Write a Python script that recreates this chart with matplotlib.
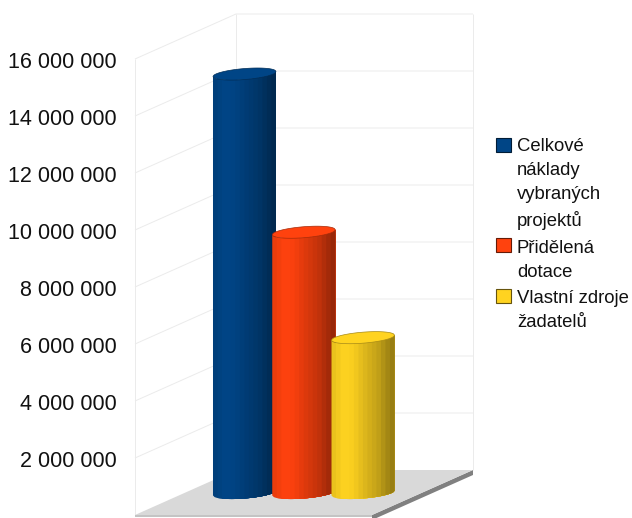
import numpy as np
import matplotlib
matplotlib.use('Agg')
import matplotlib.pyplot as plt
from matplotlib.patches import Polygon, Rectangle
from matplotlib.transforms import ScaledTranslation

# values
categories = ['Celkové\nnáklady\nvybraných\nprojektů', 'Přidělená\ndotace', 'Vlastní zdroje\nžadatelů']
values = [14700000, 9150000, 5450000]
colors = ['#004586', '#ff420e', '#ffd320']
ticks = [0, 2000000, 4000000, 6000000, 8000000, 10000000, 12000000, 14000000, 16000000]
tick_labels = ['', '2 000 000', '4 000 000', '6 000 000', '8 000 000', '10 000 000',
               '12 000 000', '14 000 000', '16 000 000']
swatch_tops = [138, 238, 289]
text_tops = [138, 240, 290]

W, H = 632, 518
plt.rcParams['font.family'] = ['Liberation Sans', 'DejaVu Sans']

fig = plt.figure(figsize=(W / 100, H / 100), dpi=100)
ax = fig.add_axes([135 / W, (H - 515) / H, 237 / W, 456 / H])
ax.set_ylim(0, 16000000)
ax.set_xlim(-1.848, 2.152)
ax.patch.set_visible(False)
for s in ax.spines.values():
    s.set_visible(False)
ax.set_xticks([])
ax.set_yticks(ticks)
ax.set_yticklabels(tick_labels, fontsize=15.5, color='#111111')
ax.tick_params(axis='y', length=0, pad=13.5)
# labels sit one pixel lower than the tick position
nudge = ScaledTranslation(0, -1 / 100, fig.dpi_scale_trans)
for lab in ax.get_yticklabels():
    lab.set_transform(lab.get_transform() + nudge)

# size of one pixel in data units
px = 4.0 / 237
py = 16000000 / 456
x0, x1 = ax.get_xlim()
depth_x, depth_y = 101 * px, 45 * py
grid = '#ebebeb'


def line(xs, ys, c=grid, lw=0.7, z=1):
    ax.plot(xs, ys, color=c, lw=lw, clip_on=False, zorder=z, solid_capstyle='butt')


# walls
for t in ticks[1:]:
    line([x0, x0 + depth_x, x1 + depth_x], [t, t + depth_y, t + depth_y])
line([x0, x0], [0, ticks[-1]])
line([x0 + depth_x] * 2, [depth_y, ticks[-1] + depth_y])
line([x1 + depth_x] * 2, [depth_y, ticks[-1] + depth_y])

# floor with its edge strips
ax.add_patch(Polygon([(x1, -5 * py), (x1 + depth_x, depth_y - 5 * py), (x1 + depth_x, depth_y), (x1, 0)],
                     fc='#808080', ec='none', clip_on=False, zorder=2))
ax.add_patch(Polygon([(x0, -2 * py), (x1, -2 * py), (x1, 0), (x0, 0)],
                     fc='#c4c4c4', ec='none', clip_on=False, zorder=2))
ax.add_patch(Polygon([(x0, 0), (x0 + depth_x, depth_y), (x1 + depth_x, depth_y), (x1, 0)],
                     fc='#d9d9d9', ec='none', clip_on=False, zorder=2))

# cylinders, stepped shading like the original
shade_pos = np.array([0.0, 0.08, 0.2, 0.35, 0.5, 0.62, 0.74, 0.84, 0.92, 1.0])
shade_val = np.array([0.90, 0.94, 1.0, 0.97, 0.88, 0.82, 0.76, 0.68, 0.62, 0.58])
r_px, tilt_px, minor_px = 31.5, 2.5, 5.5


def ellipse_y(u, sign):
    # u runs -1..1 across the cylinder; sign picks the front or back half
    return tilt_px * u + sign * minor_px * np.sqrt(np.clip(1 - u ** 2, 0, 1))


for i, (v, c) in enumerate(zip(values, colors)):
    base = np.array(matplotlib.colors.to_rgb(c))
    cy0 = 22 * py
    z = 3 + i
    # each band runs to the right edge and the next paints over it, so no seams
    for a in np.linspace(-1, 1, 15)[:-1]:
        f = np.interp((a + 1 / 14 + 1) / 2, shade_pos, shade_val)
        u = np.linspace(a, 1, 40)
        xs = i + u * r_px * px
        bottom = cy0 + ellipse_y(u, -1) * py
        top = cy0 + v + ellipse_y(u, -1) * py
        pts = list(zip(xs, bottom)) + list(zip(xs[::-1], top[::-1]))
        ax.add_patch(Polygon(pts, fc=base * f, ec='none', clip_on=False, zorder=z))
    u = np.linspace(-1, 1, 80)
    xs = i + u * r_px * px
    top_pts = list(zip(xs, cy0 + v + ellipse_y(u, 1) * py)) + \
        list(zip(xs[::-1], cy0 + v + ellipse_y(u[::-1], -1) * py))
    ax.add_patch(Polygon(top_pts, fc=c, ec=base * 0.65, lw=0.5, clip_on=False, zorder=z))

# legend
for label, c, s_top, t_top in zip(categories, colors, swatch_tops, text_tops):
    base = np.array(matplotlib.colors.to_rgb(c))
    fig.add_artist(Rectangle((496 / W, (H - s_top - 13.5) / H), 14.5 / W, 13.5 / H, fc=c, ec=base * 0.4, lw=0.8,
                             transform=fig.transFigure))
    fig.text(517 / W, (H - t_top) / H, label, fontsize=13.3, va='top', ha='left', color='#111111',
             linespacing=1.54)

fig.savefig('out.png', dpi=100)
